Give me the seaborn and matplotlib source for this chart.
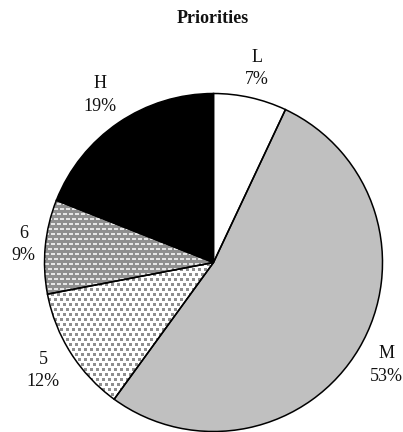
import numpy as np
import matplotlib
matplotlib.use("Agg")
import matplotlib.pyplot as plt
import seaborn as sns

# Priority distribution
categories = ["L", "M", "5", "6", "H"]
shares = [7, 53, 12, 9, 19]
face_colors = ["#ffffff", "#c0c0c0", "#ffffff", "#909090", "#000000"]

sns.set_theme(style="white")
plt.rcParams["font.family"] = ["Liberation Serif", "DejaVu Serif"]

W, H, DPI = 403, 432, 100
fig = plt.figure(figsize=(W / DPI, H / DPI), dpi=DPI)
fig.patch.set_facecolor("white")

R = 169.0
cx, cy = 213.5, 432 - 262.5
ax = fig.add_axes([(cx - R) / W, (cy - R) / H, 2 * R / W, 2 * R / H])

labels = [f"{c}\n{v}%" for c, v in zip(categories, shares)]
wedges, texts = ax.pie(
    shares,
    labels=labels,
    colors=face_colors,
    startangle=90,
    counterclock=False,
    labeldistance=1.2,
    wedgeprops=dict(linewidth=0),
    textprops=dict(fontsize=13, color="#111111"),
)
for t in texts:
    t.set_ha("center")
    t.set_va("center")
    t.set_linespacing(1.4)
    t.set_clip_on(False)

ax.set_xlim(-1, 1)
ax.set_ylim(-1, 1)
ax.set_aspect("equal")
ax.axis("off")

# place each label just outside the rim, with a fixed gap between the
# rim and the nearest side of the label's box
fig.canvas.draw()
renderer = fig.canvas.get_renderer()
gap = 8.0
for w, t in zip(wedges, texts):
    mid = np.deg2rad((w.theta1 + w.theta2) / 2)
    ux, uy = np.cos(mid), np.sin(mid)
    bb = t.get_window_extent(renderer)
    hw, hh = bb.width / 2, bb.height / 2
    dist = R + gap + hw * abs(ux) + hh * abs(uy)
    t.set_position((dist / R * ux, dist / R * uy))

# texture fills for the patterned slices
N = int(2 * R)
yy, xx = np.mgrid[0:N, 0:N]


def dotted_texture():
    img = np.ones((N, N))
    a = (xx % 6 < 3) & (yy % 10 < 3)
    b = ((xx + 3) % 6 < 3) & ((yy - 5) % 10 < 3)
    img[a | b] = 0.56
    return img


def dashed_texture():
    img = np.full((N, N), 0.56)
    a = (xx % 6 < 4) & (yy % 10 < 2)
    b = ((xx + 3) % 6 < 4) & ((yy - 5) % 10 < 2)
    img[a | b] = 0.9
    return img


textures = {"5": dotted_texture(), "6": dashed_texture()}
for cat, w in zip(categories, wedges):
    if cat in textures:
        im = ax.imshow(textures[cat], cmap="gray", vmin=0, vmax=1,
                       extent=(-1, 1, -1, 1), origin="upper",
                       interpolation="nearest", zorder=2)
        im.set_clip_path(w)

# slice outlines on top
outline, _ = ax.pie(
    shares,
    startangle=90,
    counterclock=False,
    wedgeprops=dict(facecolor="none", edgecolor="black", linewidth=1.1, zorder=3),
)
for w in outline:
    w.set_clip_on(False)

ax.set_xlim(-1, 1)
ax.set_ylim(-1, 1)
ax.set_aspect("equal")
ax.axis("off")

fig.text(213 / W, (H - 22.7) / H, "Priorities", ha="center", va="baseline",
         fontsize=13, fontweight="bold", color="#111111")

fig.savefig("out.png", dpi=DPI, facecolor="white")
